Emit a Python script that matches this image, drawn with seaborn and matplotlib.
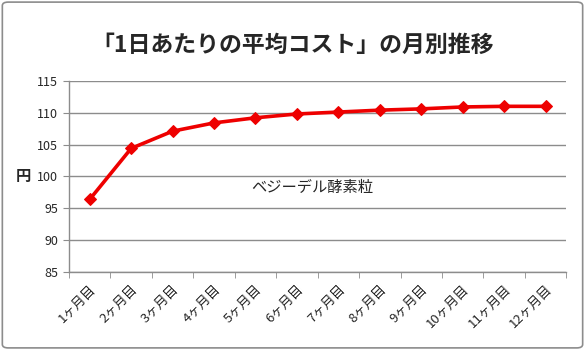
import numpy as np
import pandas as pd
import matplotlib.pyplot as plt
import seaborn as sns
from matplotlib.patches import FancyBboxPatch

months = ['1ヶ月目', '2ヶ月目', '3ヶ月目', '4ヶ月目', '5ヶ月目', '6ヶ月目',
          '7ヶ月目', '8ヶ月目', '9ヶ月目', '10ヶ月目', '11ヶ月目', '12ヶ月目']
cost = [96.4, 104.4, 107.1, 108.4, 109.2, 109.8, 110.1, 110.4, 110.6, 110.9, 111.0, 111.0]
yticks = [85, 90, 95, 100, 105, 110, 115]

sns.set_style('white')
plt.rcParams['font.family'] = ['Noto Sans CJK JP', 'DejaVu Sans']

data = pd.DataFrame({'month': months, 'cost': cost})

fig = plt.figure(figsize=(5.85, 3.5), dpi=100)
ax = fig.add_axes([0.118, 0.223, 0.850, 0.546])

sns.lineplot(data=data, x='month', y='cost', ax=ax, color='#ee0000', linewidth=2.6,
             marker='D', markersize=6, markeredgecolor='#ee0000', sort=False)

ax.set_ylim(85, 115)
ax.set_yticks(yticks)
ax.set_xlim(-0.5, len(months) - 0.5)
ax.yaxis.grid(True, color='#8c8c8c', linewidth=1)
ax.set_axisbelow(True)
for s in ['top', 'right']:
    ax.spines[s].set_visible(False)
for s in ['left', 'bottom']:
    ax.spines[s].set_color('#8c8c8c')
    ax.spines[s].set_linewidth(1)

ax.tick_params(axis='y', labelsize=9, length=4, color='#8c8c8c', direction='out', left=True, pad=4)
ax.set_xticks(range(len(months)))
ax.set_xticklabels(months, rotation=45, ha='right', rotation_mode='anchor', fontsize=9.5)
ax.tick_params(axis='x', which='major', length=0, pad=8)
ax.set_xticks(np.arange(-0.5, len(months)), minor=True)
ax.tick_params(axis='x', which='minor', length=4, color='#8c8c8c', direction='out', bottom=True)

ax.set_xlabel('')
ax.set_ylabel('円', rotation=0, fontsize=11, fontweight='bold', va='center')
ax.yaxis.set_label_coords(-0.092, 0.5)

ax.text(0.49, 0.44, 'ベジーデル酵素粒', transform=ax.transAxes, ha='center', va='center', fontsize=11)

fig.text(0.5, 0.87, '「1日あたりの平均コスト」の月別推移', ha='center', va='center',
         fontsize=16.5, fontweight='bold')

frame = FancyBboxPatch((0.004, 0.006), 0.992, 0.988, boxstyle='round,pad=0,rounding_size=0.01',
                       transform=fig.transFigure, fill=False, edgecolor='#8c8c8c', linewidth=1.2)
fig.patches.append(frame)

fig.savefig('out.png', dpi=100)
